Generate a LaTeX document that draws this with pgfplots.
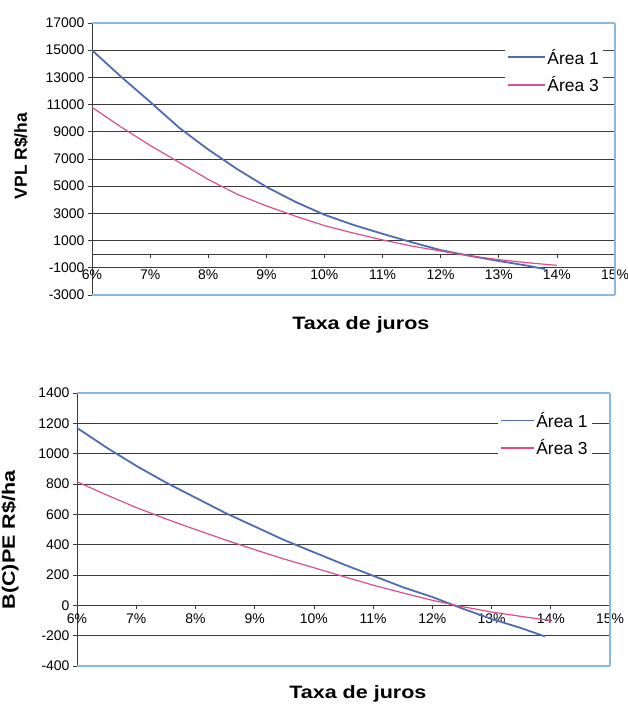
\documentclass[border=0pt]{standalone}
\usepackage{fontspec}
\setmainfont{Liberation Sans}
\newfontfamily\widefont{Liberation Sans}[FakeStretch=1.2]
\usepackage{pgfplots}
\pgfplotsset{compat=1.18}
\definecolor{serA}{HTML}{4F6CAE}
\definecolor{serB}{HTML}{D6508E}
\definecolor{bord}{HTML}{8DB6E2}
\definecolor{gridc}{HTML}{3A3A3A}

\pgfplotsset{
  excelstyle/.style={
    scale only axis,
    axis x line=middle, axis y line=left,
    axis line style={-, draw=gridc, line width=0.8bp},
    hide obscured x ticks=false, hide obscured y ticks=false,
    scaled y ticks=false, scaled x ticks=false,
    ymajorgrids, major grid style={draw=gridc, line width=0.7bp},
    tick align=outside, major tick length=4bp,
    tick style={draw=gridc, line width=0.7bp},
    tick label style={font=\fontsize{14}{16}\selectfont},
    xtick={6,...,15},
    xticklabels={6\%,7\%,8\%,9\%,10\%,11\%,12\%,13\%,14\%,15\%},
    extra x ticks={15}, extra x tick labels={},
    extra x tick style={xmajorgrids=true, ymajorgrids=false,
      major grid style={draw=bord, line width=1.3bp}, major tick length=0bp},
    extra y tick style={ymajorgrids=true,
      major grid style={draw=bord, line width=1.3bp}},
    xmin=6, xmax=15,
    clip=false,
    legend cell align=left,
  }
}

\pgfplotstableread{
x y
6 15000
6.5 13050
7 11200
7.5 9300
8 7700
8.5 6250
9 4950
9.5 3850
10 2900
10.5 2150
11 1500
11.5 880
12 300
12.5 -120
13 -500
13.5 -850
13.8 -1100
}\vplA
\pgfplotstableread{
x y
6 10800
6.5 9350
7 8000
7.5 6750
8 5500
8.5 4400
9 3550
9.5 2800
10 2100
10.5 1550
11 1050
11.5 600
12 230
12.5 -120
13 -400
13.5 -630
14 -820
}\vplB
\pgfplotstableread{
x y
6 1170
6.5 1040
7 920
7.5 810
8 710
8.5 610
9 520
9.5 430
10 350
10.5 270
11 195
11.5 120
12 55
12.5 -20
13 -90
13.5 -150
13.9 -205
}\bcpeA
\pgfplotstableread{
x y
6 815
6.5 728
7 645
7.5 570
8 500
8.5 432
9 367
9.5 305
10 248
10.5 190
11 133
11.5 82
12 33
12.5 -8
13 -44
13.5 -73
14 -100
}\bcpeB

\begin{document}
\begin{tikzpicture}
\useasboundingbox (0,0) rectangle (628bp,704bp);

% ---------------- top chart ----------------
\begin{axis}[
  excelstyle,
  at={(92bp,409bp)}, anchor=south west,
  width=523bp, height=272bp,
  ymin=-3000, ymax=17000,
  ytick={-1000,1000,3000,5000,7000,9000,11000,13000,15000},
  yticklabels={-1000,1000,3000,5000,7000,9000,11000,13000,15000},
  extra y ticks={-3000,17000},
  extra y tick labels={-3000,17000},
  xticklabel style={yshift=-8bp},
  legend image code/.code={\draw[#1, line width=1.6bp] (0bp,0bp) -- (37bp,0bp);},
  legend style={draw=none, fill=white, text=black, at={(0.977,0.92)}, anchor=north east,
    font=\fontsize{17.5}{20}\selectfont, row sep=7bp, inner sep=2bp},
]
\addplot[serA, line width=1.8bp] table[x=x,y=y] {\vplA};
\addlegendentry{Área 1}
\addplot[serB, line width=1.2bp] table[x=x,y=y] {\vplB};
\addlegendentry{Área 3}
\node[anchor=base, font=\widefont\bfseries\fontsize{18}{20}\selectfont] at ([yshift=-35bp]rel axis cs:0.514,0) {Taxa de juros};
\node[rotate=90, anchor=center, font=\bfseries\fontsize{17.5}{20}\selectfont] at ([xshift=-71bp]rel axis cs:0,0.511) {VPL R\$/ha};
\end{axis}

% ---------------- bottom chart ----------------
\begin{axis}[
  excelstyle,
  at={(77bp,38bp)}, anchor=south west,
  width=533bp, height=273bp,
  ymin=-400, ymax=1400,
  ytick={-200,0,200,400,600,800,1000,1200},
  yticklabels={-200,0,200,400,600,800,1000,1200},
  extra y ticks={-400,1400},
  extra y tick labels={-400,1400},
  xticklabel style={yshift=-1bp},
  legend image code/.code={\draw[#1, line width=1.6bp] (0bp,0bp) -- (33bp,0bp);},
  legend style={draw=none, fill=white, text=black, at={(0.966,0.945)}, anchor=north east,
    font=\fontsize{17.5}{20}\selectfont, row sep=7bp, inner sep=2bp},
]
\addplot[serA, line width=1.8bp] table[x=x,y=y] {\bcpeA};
\addlegendentry{Área 1}
\addplot[serB, line width=1.2bp] table[x=x,y=y] {\bcpeB};
\addlegendentry{Área 3}
\node[anchor=base, font=\widefont\bfseries\fontsize{18}{20}\selectfont] at ([yshift=-32bp]rel axis cs:0.527,0) {Taxa de juros};
\node[rotate=90, anchor=center, font=\widefont\bfseries\fontsize{18}{20}\selectfont] at ([xshift=-67bp]rel axis cs:0,0.4615) {B(C)PE R\$/ha};
\end{axis}
\end{tikzpicture}
\end{document}
